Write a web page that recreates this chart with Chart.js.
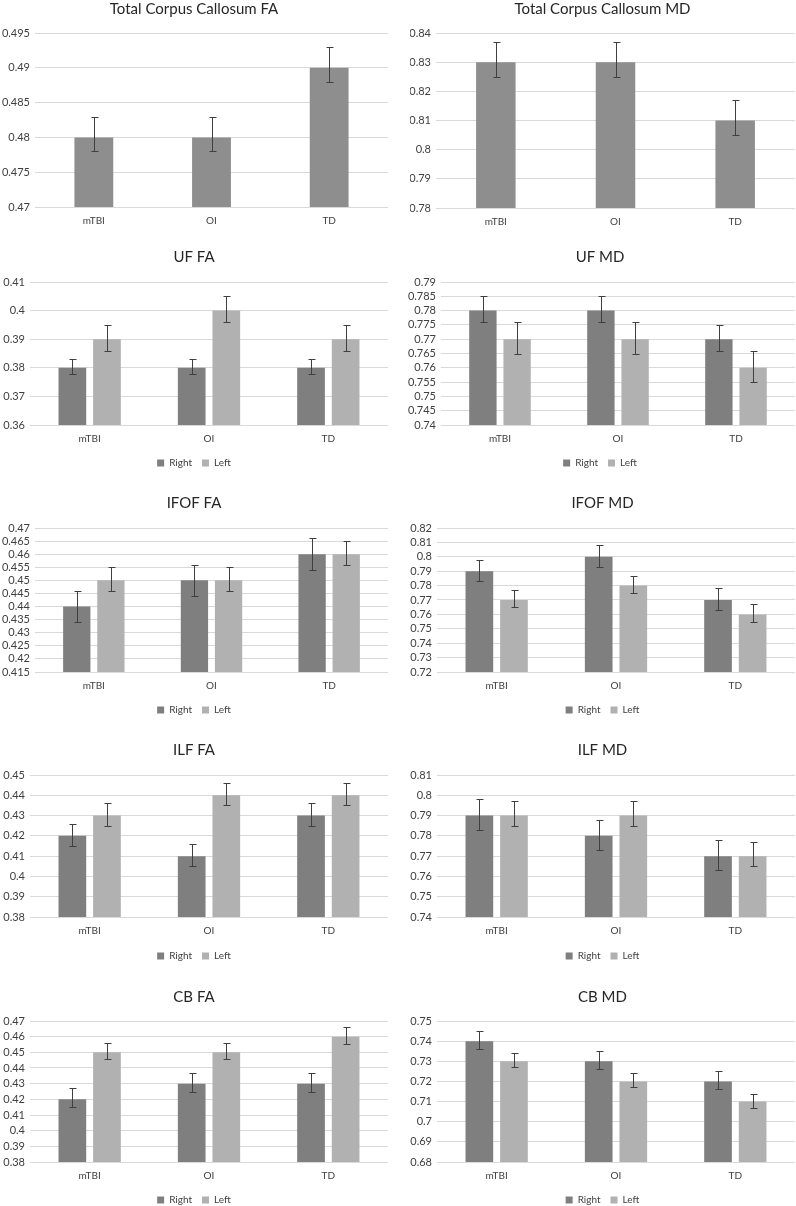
<!DOCTYPE html>
<html>
<head>
<meta charset="utf-8">
<script src="https://cdn.jsdelivr.net/npm/chart.js@4.4.1/dist/chart.umd.min.js"></script>
<style>
  body { margin: 0; background: #fff; width: 796px; height: 1206px; overflow: hidden; position: relative; }
  canvas { position: absolute; }
</style>
</head>
<body>
<script>
// categories
const groups = ['mTBI', 'OI', 'TD'];
const sides = ['Right', 'Left'];

// total corpus callosum
const ccFA = [0.48, 0.48, 0.49];
const ccFAHi = [0.483, 0.483, 0.493];
const ccFALo = [0.478, 0.478, 0.488];
const ccMD = [0.83, 0.83, 0.81];
const ccMDHi = [0.837, 0.837, 0.817];
const ccMDLo = [0.825, 0.825, 0.805];

// UF
const ufFARight = [0.38, 0.38, 0.38];
const ufFARightHi = [0.383, 0.383, 0.383];
const ufFARightLo = [0.378, 0.378, 0.378];
const ufFALeft = [0.39, 0.40, 0.39];
const ufFALeftHi = [0.395, 0.405, 0.395];
const ufFALeftLo = [0.386, 0.396, 0.386];
const ufMDRight = [0.78, 0.78, 0.77];
const ufMDRightHi = [0.785, 0.785, 0.775];
const ufMDRightLo = [0.776, 0.776, 0.766];
const ufMDLeft = [0.77, 0.77, 0.76];
const ufMDLeftHi = [0.776, 0.776, 0.766];
const ufMDLeftLo = [0.765, 0.765, 0.755];

// IFOF
const ifofFARight = [0.44, 0.45, 0.46];
const ifofFARightHi = [0.446, 0.456, 0.466];
const ifofFARightLo = [0.434, 0.444, 0.454];
const ifofFALeft = [0.45, 0.45, 0.46];
const ifofFALeftHi = [0.455, 0.455, 0.465];
const ifofFALeftLo = [0.446, 0.446, 0.456];
const ifofMDRight = [0.79, 0.80, 0.77];
const ifofMDRightHi = [0.798, 0.808, 0.778];
const ifofMDRightLo = [0.783, 0.793, 0.763];
const ifofMDLeft = [0.77, 0.78, 0.76];
const ifofMDLeftHi = [0.777, 0.787, 0.767];
const ifofMDLeftLo = [0.765, 0.775, 0.755];

// ILF
const ilfFARight = [0.42, 0.41, 0.43];
const ilfFARightHi = [0.426, 0.416, 0.436];
const ilfFARightLo = [0.415, 0.405, 0.425];
const ilfFALeft = [0.43, 0.44, 0.44];
const ilfFALeftHi = [0.436, 0.446, 0.446];
const ilfFALeftLo = [0.425, 0.435, 0.435];
const ilfMDRight = [0.79, 0.78, 0.77];
const ilfMDRightHi = [0.798, 0.788, 0.778];
const ilfMDRightLo = [0.783, 0.773, 0.763];
const ilfMDLeft = [0.79, 0.79, 0.77];
const ilfMDLeftHi = [0.797, 0.797, 0.777];
const ilfMDLeftLo = [0.785, 0.785, 0.765];

// CB
const cbFARight = [0.42, 0.43, 0.43];
const cbFARightHi = [0.427, 0.437, 0.437];
const cbFARightLo = [0.415, 0.425, 0.425];
const cbFALeft = [0.45, 0.45, 0.46];
const cbFALeftHi = [0.456, 0.456, 0.466];
const cbFALeftLo = [0.4455, 0.4455, 0.455];
const cbMDRight = [0.74, 0.73, 0.72];
const cbMDRightHi = [0.745, 0.735, 0.725];
const cbMDRightLo = [0.736, 0.726, 0.716];
const cbMDLeft = [0.73, 0.72, 0.71];
const cbMDLeftHi = [0.734, 0.724, 0.714];
const cbMDLeftLo = [0.727, 0.717, 0.707];

// y axis ticks: [min, max, step]
const ccFATicks = [0.47, 0.495, 0.005];
const ccMDTicks = [0.78, 0.84, 0.01];
const ufFATicks = [0.36, 0.41, 0.01];
const ufMDTicks = [0.74, 0.79, 0.005];
const ifofFATicks = [0.415, 0.47, 0.005];
const ifofMDTicks = [0.72, 0.82, 0.01];
const ilfFATicks = [0.38, 0.45, 0.01];
const ilfMDTicks = [0.74, 0.81, 0.01];
const cbFATicks = [0.38, 0.47, 0.01];
const cbMDTicks = [0.68, 0.75, 0.01];

const FONT = 'Lato, "Open Sans", sans-serif';
const singleColor = '#8e8e8e';
const rightColor = '#7f7f7f';
const leftColor = '#b1b1b1';
const textColor = '#404040';

// draws the whiskers on top of the bars
const errorBars = {
  id: 'errorBars',
  afterDatasetsDraw(chart) {
    const ctx = chart.ctx;
    const y = chart.scales.y;
    chart.data.datasets.forEach((ds, i) => {
      const meta = chart.getDatasetMeta(i);
      meta.data.forEach((bar, j) => {
        const top = Math.round(y.getPixelForValue(ds.errHi[j])) + 0.5;
        const bot = Math.round(y.getPixelForValue(ds.errLo[j])) + 0.5;
        const x = Math.round(bar.x) + 0.5;
        ctx.save();
        ctx.strokeStyle = '#3f3f3f';
        ctx.lineWidth = 1;
        ctx.beginPath();
        ctx.moveTo(x, top); ctx.lineTo(x, bot);
        ctx.moveTo(x - 3, top); ctx.lineTo(x + 4, top);
        ctx.moveTo(x - 3, bot); ctx.lineTo(x + 4, bot);
        ctx.stroke();
        ctx.restore();
      });
    });
  }
};

function makeChart(box, title, ticks, datasets) {
  const canvas = document.createElement('canvas');
  canvas.width = box.w;
  canvas.height = box.h;
  canvas.style.left = box.x + 'px';
  canvas.style.top = box.y + 'px';
  document.body.appendChild(canvas);

  const twoSeries = datasets.length > 1;

  new Chart(canvas, {
    type: 'bar',
    data: { labels: groups, datasets: datasets },
    plugins: [errorBars],
    options: {
      responsive: false,
      animation: false,
      events: [],
      layout: { padding: { left: 0, right: box.padR, top: 0, bottom: 0 } },
      datasets: {
        bar: twoSeries
          ? { categoryPercentage: 0.58, barPercentage: 0.8 }
          : { categoryPercentage: 1, barPercentage: 0.33 }
      },
      plugins: {
        title: {
          display: true,
          text: title,
          color: '#262626',
          font: { family: FONT, size: 15, weight: 'normal' },
          padding: { top: box.tTop, bottom: box.tBot }
        },
        legend: {
          display: twoSeries,
          position: 'bottom',
          labels: {
            boxWidth: 7,
            boxHeight: 7,
            padding: 10,
            color: textColor,
            font: { family: FONT, size: 10 }
          }
        },
        tooltip: { enabled: false }
      },
      scales: {
        x: {
          grid: { display: false, drawTicks: false },
          border: { display: false },
          ticks: { color: textColor, font: { family: FONT, size: 10 }, padding: 8 },
          afterFit: (ax) => { ax.height = box.xh; }
        },
        y: {
          min: ticks[0],
          max: ticks[1],
          grid: { color: '#d9d9d9', drawTicks: false },
          border: { display: false },
          ticks: {
            stepSize: ticks[2],
            autoSkip: false,
            padding: 5,
            color: textColor,
            font: { family: FONT, size: 11 },
            callback: (v) => String(+v.toFixed(3))
          },
          afterFit: (ax) => { ax.width = box.yw; }
        }
      }
    }
  });
}

function single(values, hi, lo) {
  return [{ label: 'value', data: values, errHi: hi, errLo: lo, backgroundColor: singleColor }];
}
function pair(r, rHi, rLo, l, lHi, lLo) {
  return [
    { label: sides[0], data: r, errHi: rHi, errLo: rLo, backgroundColor: rightColor },
    { label: sides[1], data: l, errHi: lHi, errLo: lLo, backgroundColor: leftColor }
  ];
}

// panel boxes (left column / right column)
makeChart({ x: 0, y: 0, w: 396, h: 232, padR: 8, tTop: 0, tBot: 15, yw: 35, xh: 25 },
  'Total Corpus Callosum FA', ccFATicks, single(ccFA, ccFAHi, ccFALo));
makeChart({ x: 410, y: 0, w: 386, h: 232, padR: 1, tTop: 0, tBot: 15, yw: 26, xh: 24 },
  'Total Corpus Callosum MD', ccMDTicks, single(ccMD, ccMDHi, ccMDLo));

makeChart({ x: 0, y: 232, w: 396, h: 246, padR: 8, tTop: 16, tBot: 16, yw: 30, xh: 23 },
  'UF FA', ufFATicks, pair(ufFARight, ufFARightHi, ufFARightLo, ufFALeft, ufFALeftHi, ufFALeftLo));
makeChart({ x: 405, y: 232, w: 391, h: 246, padR: 1, tTop: 16, tBot: 16, yw: 36, xh: 23 },
  'UF MD', ufMDTicks, pair(ufMDRight, ufMDRightHi, ufMDRightLo, ufMDLeft, ufMDLeftHi, ufMDLeftLo));

makeChart({ x: 0, y: 480, w: 396, h: 245, padR: 8, tTop: 14, tBot: 16, yw: 35, xh: 23 },
  'IFOF FA', ifofFATicks, pair(ifofFARight, ifofFARightHi, ifofFARightLo, ifofFALeft, ifofFALeftHi, ifofFALeftLo));
makeChart({ x: 410, y: 480, w: 386, h: 245, padR: 1, tTop: 14, tBot: 16, yw: 27, xh: 23 },
  'IFOF MD', ifofMDTicks, pair(ifofMDRight, ifofMDRightHi, ifofMDRightLo, ifofMDLeft, ifofMDLeftHi, ifofMDLeftLo));

makeChart({ x: 0, y: 725, w: 396, h: 246, padR: 8, tTop: 16, tBot: 16, yw: 30, xh: 24 },
  'ILF FA', ilfFATicks, pair(ilfFARight, ilfFARightHi, ilfFARightLo, ilfFALeft, ilfFALeftHi, ilfFALeftLo));
makeChart({ x: 410, y: 725, w: 386, h: 246, padR: 1, tTop: 16, tBot: 16, yw: 27, xh: 24 },
  'ILF MD', ilfMDTicks, pair(ilfMDRight, ilfMDRightHi, ilfMDRightLo, ilfMDLeft, ilfMDLeftHi, ilfMDLeftLo));

makeChart({ x: 0, y: 968, w: 396, h: 247, padR: 8, tTop: 20, tBot: 15, yw: 30, xh: 23 },
  'CB FA', cbFATicks, pair(cbFARight, cbFARightHi, cbFARightLo, cbFALeft, cbFALeftHi, cbFALeftLo));
makeChart({ x: 410, y: 968, w: 386, h: 247, padR: 1, tTop: 20, tBot: 15, yw: 27, xh: 23 },
  'CB MD', cbMDTicks, pair(cbMDRight, cbMDRightHi, cbMDRightLo, cbMDLeft, cbMDLeftHi, cbMDLeftLo));
</script>
</body>
</html>
